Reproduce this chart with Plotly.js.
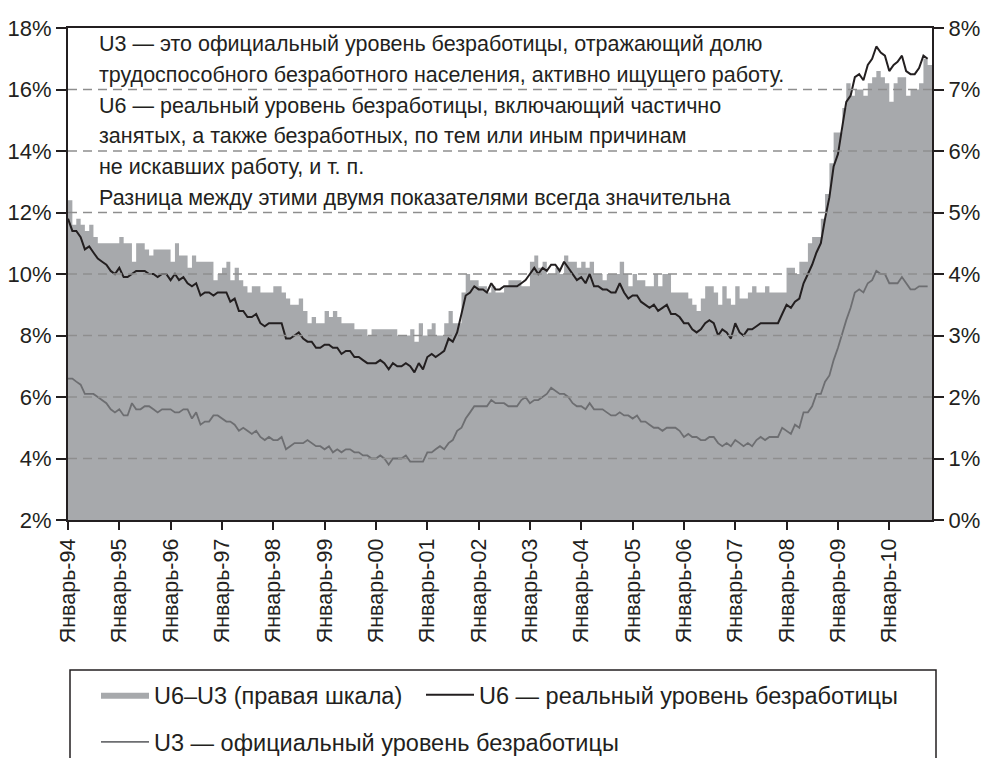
<!DOCTYPE html>
<html>
<head>
<meta charset="utf-8">
<script src="https://cdn.plot.ly/plotly-3.0.1.min.js"></script>
<style>
html,body{margin:0;padding:0;background:#ffffff;}
#chart{width:985px;height:758px;}
</style>
</head>
<body>
<div id="chart"></div>
<script>
// ---------------- DATA (monthly, Jan 1994 – Oct 2010) ----------------
const startYear = 1994;

// U3 — official unemployment rate, %
const u3 = [
  6.6,6.6,6.5,6.4,6.1,6.1,6.1,6.0,5.9,5.8,5.6,5.5,   // 1994
  5.6,5.4,5.4,5.8,5.6,5.6,5.7,5.7,5.6,5.5,5.6,5.6,   // 1995
  5.6,5.5,5.5,5.6,5.6,5.3,5.5,5.1,5.2,5.2,5.4,5.4,   // 1996
  5.3,5.2,5.2,5.1,4.9,5.0,4.9,4.8,4.9,4.7,4.6,4.7,   // 1997
  4.6,4.6,4.7,4.3,4.4,4.5,4.5,4.5,4.6,4.5,4.4,4.4,   // 1998
  4.3,4.4,4.2,4.3,4.2,4.3,4.3,4.2,4.2,4.1,4.1,4.0,   // 1999
  4.0,4.1,4.0,3.8,4.0,4.0,4.0,4.1,3.9,3.9,3.9,3.9,   // 2000
  4.2,4.2,4.3,4.4,4.3,4.5,4.6,4.9,5.0,5.3,5.5,5.7,   // 2001
  5.7,5.7,5.7,5.9,5.8,5.8,5.8,5.7,5.7,5.7,5.9,6.0,   // 2002
  5.8,5.9,5.9,6.0,6.1,6.3,6.2,6.1,6.1,6.0,5.8,5.7,   // 2003
  5.7,5.6,5.8,5.6,5.6,5.6,5.5,5.4,5.4,5.5,5.4,5.4,   // 2004
  5.3,5.4,5.2,5.2,5.1,5.0,5.0,4.9,5.0,5.0,5.0,4.9,   // 2005
  4.7,4.8,4.7,4.7,4.6,4.6,4.7,4.7,4.5,4.4,4.5,4.4,   // 2006
  4.6,4.5,4.4,4.5,4.4,4.6,4.7,4.6,4.7,4.7,4.7,5.0,   // 2007
  4.9,4.8,5.1,5.0,5.5,5.5,5.7,6.1,6.1,6.5,6.7,7.2,   // 2008
  7.6,8.1,8.5,8.9,9.4,9.5,9.4,9.7,9.8,10.1,10.0,10.0,// 2009
  9.7,9.7,9.7,9.9,9.7,9.5,9.5,9.6,9.6,9.6            // 2010
];

// U6 — broad ("real") unemployment rate, %
const u6 = [
  11.8,11.4,11.4,11.2,10.8,10.9,10.7,10.5,10.4,10.3,10.1,10.0, // 1994
  10.2,9.9,9.9,10.0,10.1,10.1,10.1,10.0,10.0,9.9,10.0,10.0,    // 1995
  9.8,10.0,9.8,9.9,9.7,9.6,9.7,9.3,9.4,9.4,9.3,9.4,            // 1996
  9.4,9.4,9.1,9.2,8.8,8.8,8.6,8.6,8.7,8.4,8.3,8.4,             // 1997
  8.4,8.4,8.4,7.9,7.9,8.0,8.1,7.9,7.8,7.8,7.6,7.6,             // 1998
  7.7,7.7,7.6,7.6,7.4,7.5,7.5,7.3,7.3,7.2,7.1,7.1,             // 1999
  7.1,7.2,7.1,6.9,7.1,7.0,7.0,7.1,7.0,6.8,7.1,6.9,             // 2000
  7.3,7.4,7.3,7.4,7.5,7.9,7.8,8.1,8.7,9.3,9.4,9.6,             // 2001
  9.5,9.5,9.4,9.7,9.5,9.5,9.6,9.6,9.6,9.6,9.7,9.8,             // 2002
  10.0,10.2,10.0,10.2,10.1,10.3,10.3,10.1,10.4,10.2,10.0,9.8,  // 2003
  9.9,9.7,10.0,9.6,9.6,9.5,9.5,9.4,9.4,9.7,9.4,9.2,            // 2004
  9.3,9.3,9.1,9.0,8.9,9.0,8.8,8.9,9.0,8.7,8.7,8.6,             // 2005
  8.4,8.4,8.2,8.1,8.2,8.4,8.5,8.4,8.0,8.2,8.1,7.9,             // 2006
  8.4,8.1,8.0,8.2,8.2,8.3,8.4,8.4,8.4,8.4,8.4,8.7,             // 2007
  9.0,8.9,9.1,9.2,9.7,10.0,10.3,10.7,11.0,11.8,12.5,13.5,      // 2008
  13.9,14.8,15.6,15.8,16.4,16.5,16.3,16.8,17.0,17.4,17.2,17.1, // 2009
  16.6,16.8,16.9,17.1,16.6,16.5,16.5,16.7,17.1,17.0            // 2010
];

// U6 – U3, percentage points (right scale)
const u6MinusU3 = [
  5.2,4.8,4.9,4.8,4.7,4.8,4.6,4.5,4.5,4.5,4.5,4.5, // 1994
  4.6,4.5,4.5,4.2,4.5,4.5,4.4,4.3,4.4,4.4,4.4,4.4, // 1995
  4.2,4.5,4.3,4.3,4.1,4.3,4.2,4.2,4.2,4.2,3.9,4.0, // 1996
  4.1,4.2,3.9,4.1,3.9,3.8,3.7,3.8,3.8,3.7,3.7,3.7, // 1997
  3.8,3.8,3.7,3.6,3.5,3.5,3.6,3.4,3.2,3.3,3.2,3.2, // 1998
  3.4,3.3,3.4,3.3,3.2,3.2,3.2,3.1,3.1,3.1,3.0,3.1, // 1999
  3.1,3.1,3.1,3.1,3.1,3.0,3.0,3.0,3.1,2.9,3.2,3.0, // 2000
  3.1,3.2,3.0,3.0,3.2,3.4,3.2,3.2,3.7,4.0,3.9,3.9, // 2001
  3.8,3.8,3.7,3.8,3.7,3.7,3.8,3.9,3.9,3.9,3.8,3.8, // 2002
  4.2,4.3,4.1,4.2,4.0,4.0,4.1,4.0,4.3,4.2,4.2,4.1, // 2003
  4.2,4.1,4.2,4.0,4.0,3.9,4.0,4.0,4.0,4.2,4.0,3.8, // 2004
  4.0,3.9,3.9,3.8,3.8,4.0,3.8,4.0,4.0,3.7,3.7,3.7, // 2005
  3.7,3.6,3.5,3.4,3.6,3.8,3.8,3.7,3.5,3.8,3.6,3.5, // 2006
  3.8,3.6,3.6,3.7,3.8,3.7,3.7,3.8,3.7,3.7,3.7,3.7, // 2007
  4.1,4.1,4.0,4.2,4.2,4.5,4.6,4.6,4.9,5.3,5.8,6.3, // 2008
  6.3,6.7,7.1,6.9,7.0,7.0,6.9,7.1,7.2,7.3,7.2,7.1, // 2009
  6.8,7.1,7.2,7.2,6.9,7.0,7.0,7.1,7.5,7.4          // 2010
];

const xTickLabels = ['Январь-94','Январь-95','Январь-96','Январь-97','Январь-98','Январь-99',
  'Январь-00','Январь-01','Январь-02','Январь-03','Январь-04','Январь-05','Январь-06',
  'Январь-07','Январь-08','Январь-09','Январь-10'];
const leftTicks  = [2,4,6,8,10,12,14,16,18];
const rightTicks = [0,1,2,3,4,5,6,7,8];
const gridValues = [4,6,8,10,12,14,16];

const seriesNames = ['U6–U3 (правая шкала)', 'U6 — реальный уровень безработицы', 'U3 — официальный уровень безработицы'];
const noteLines = [
  'U3 — это официальный уровень безработицы, отражающий долю',
  'трудоспособного безработного населения, активно ищущего работу.',
  'U6 — реальный уровень безработицы, включающий частично',
  'занятых, а также безработных, по тем или иным причинам',
  'не искавших работу, и т. п.',
  'Разница между этими двумя показателями всегда значительна'
];

// ---------------- helpers ----------------
function monthStr(i){
  const y = startYear + Math.floor(i/12), m = i % 12 + 1;
  return y + '-' + (m < 10 ? '0' + m : m) + '-01';
}
const months = u3.map((_, i) => monthStr(i));
const endMonth = monthStr(u3.length);
const januaries = months.filter(m => m.slice(5,7) === '01');

const FONT = '"Liberation Sans", Arial, sans-serif';
const fs = { ytick: 22, xtick: 21.5, note: 21.5, legend: 23.5 };
const INK = '#231f20';
const AREA = '#a7a9ac';

// ---------------- geometry (px -> paper) ----------------
const W = 985, H = 758, L = 68, R = 53, T = 28, B = 238;
const PW = W - L - R, PH = H - T - B;
const px = x => (x - L) / PW;
const py = y => (H - B - y) / PH;

// ---------------- traces ----------------
const traces = [
  {
    type: 'scatter', mode: 'lines', name: seriesNames[0],
    x: months.concat([endMonth]),
    y: u6MinusU3.concat([u6MinusU3[u6MinusU3.length - 1]]),
    yaxis: 'y',
    line: { shape: 'hv', width: 0, color: AREA },
    fill: 'tozeroy', fillcolor: AREA,
    hoverinfo: 'skip', legend: 'legend', legendwidth: 262
  },
  {
    type: 'scatter', mode: 'lines', name: seriesNames[1],
    x: months, y: u6, yaxis: 'y2',
    line: { color: INK, width: 2 },
    hoverinfo: 'skip', legend: 'legend'
  },
  {
    type: 'scatter', mode: 'lines', name: seriesNames[2],
    x: months, y: u3, yaxis: 'y2',
    line: { color: '#6d6e71', width: 1.8 },
    hoverinfo: 'skip', legend: 'legend2'
  }
];

// ---------------- layout ----------------
const shapes = gridValues.map(v => ({
  type: 'line', xref: 'paper', yref: 'y2', x0: 0, x1: 1, y0: v, y1: v,
  line: { color: '#8e8e8e', width: 1.5, dash: '9px,6px' }, layer: 'above'
}));
shapes.push({
  type: 'rect', xref: 'paper', yref: 'paper',
  x0: px(70), x1: px(936), y0: py(670), y1: py(800),
  line: { color: INK, width: 1.5 }, fillcolor: 'rgba(0,0,0,0)', layer: 'above'
});

const annotations = noteLines.map((t, i) => ({
  text: t, xref: 'paper', yref: 'paper',
  x: px(97), y: py(44 + i * 30.8), xanchor: 'left', yanchor: 'middle',
  showarrow: false, font: { family: FONT, size: fs.note, color: INK }
}));

const axisCommon = {
  showline: true, linecolor: INK, linewidth: 2,
  ticks: 'outside', tickcolor: INK, tickwidth: 2,
  showgrid: false, zeroline: false, fixedrange: true
};

const layout = {
  width: W, height: H,
  margin: { l: L, r: R, t: T, b: B, pad: 0, autoexpand: false },
  paper_bgcolor: '#ffffff', plot_bgcolor: '#ffffff',
  font: { family: FONT, color: INK },
  showlegend: true,
  xaxis: Object.assign({}, axisCommon, {
    type: 'date', range: [months[0], endMonth],
    tickmode: 'array', tickvals: januaries, ticktext: xTickLabels,
    tickangle: -90, ticklen: 8, mirror: true,
    tickfont: { family: FONT, size: fs.xtick, color: INK }
  }),
  yaxis: Object.assign({}, axisCommon, {
    range: [0, 8], side: 'right',
    tickmode: 'array', tickvals: rightTicks, ticktext: rightTicks.map(v => v + '%'),
    ticklen: 10, tickfont: { family: FONT, size: fs.ytick, color: INK }
  }),
  yaxis2: Object.assign({}, axisCommon, {
    range: [2, 18], side: 'left', overlaying: 'y',
    tickmode: 'array', tickvals: leftTicks, ticktext: leftTicks.map(v => v + '%'),
    ticklen: 10, tickfont: { family: FONT, size: fs.ytick, color: INK }
  }),
  legend: {
    orientation: 'h', x: px(96), xanchor: 'left', y: py(695), yanchor: 'middle',
    bgcolor: 'rgba(0,0,0,0)', borderwidth: 0, itemwidth: 48,
    font: { family: FONT, size: fs.legend, color: INK }, traceorder: 'normal'
  },
  legend2: {
    orientation: 'h', x: px(96), xanchor: 'left', y: py(742), yanchor: 'middle',
    bgcolor: 'rgba(0,0,0,0)', borderwidth: 0, itemwidth: 48,
    font: { family: FONT, size: fs.legend, color: INK }
  },
  shapes: shapes,
  annotations: annotations
};

Plotly.newPlot('chart', traces, layout, { displayModeBar: false, staticPlot: true });
</script>
</body>
</html>
